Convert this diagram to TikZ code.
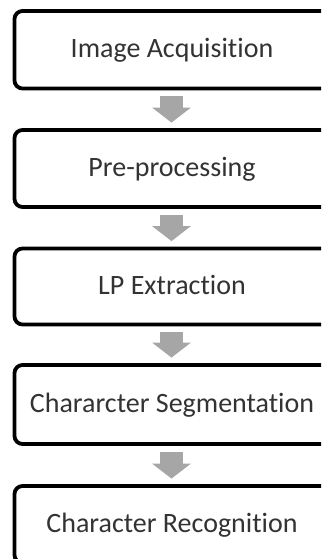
\documentclass[tikz,border=0pt]{standalone}
\usepackage{fontspec}
\setmainfont{Carlito}[Ligatures={NoCommon}]
\usetikzlibrary{arrows.meta}
\definecolor{txtgray}{HTML}{333333}
\definecolor{arrgray}{HTML}{A6A6A6}
\begin{document}
\begin{tikzpicture}[x=1pt,y=-1pt,
  stepbox/.style={draw=black, line width=3.8pt, rounded corners=8pt, fill=white,
    minimum width=315pt, minimum height=77pt, inner sep=0pt,
    text height=16pt, text depth=0pt, text=txtgray,
    font=\fontsize{28}{32}\selectfont},
  flowarrow/.style={draw=arrgray, line width=23pt,
    -{Triangle[width=38pt,length=15pt,fill=arrgray]}}]
\useasboundingbox (0,0) rectangle (321,559);
\clip (0,0) rectangle (321,559);
\fill[white] (0,0) rectangle (321,559);
\node[stepbox, minimum height=77.5pt] (b1) at (172,49.75) {Image Acquisition};
\node[stepbox] (b2) at (172,168.5) {Pre-processing};
\node[stepbox, minimum height=76pt] (b3) at (172,286.5) {LP Extraction};
\node[stepbox, minimum height=79pt] (b4) at (172,404.5) {Chararcter Segmentation};
\node[stepbox] (b5) at (172,524.5) {Character Recognition};
\draw[flowarrow] ([xshift=-0.5pt,yshift=-6pt]b1.south) -- ([xshift=-0.5pt,yshift=5.5pt]b2.north);
\draw[flowarrow] ([xshift=-0.5pt,yshift=-6pt]b2.south) -- ([xshift=-0.5pt,yshift=5.5pt]b3.north);
\draw[flowarrow] ([xshift=-0.5pt,yshift=-6pt]b3.south) -- ([xshift=-0.5pt,yshift=5.5pt]b4.north);
\draw[flowarrow] ([xshift=-0.5pt,yshift=-6pt]b4.south) -- ([xshift=-0.5pt,yshift=5.5pt]b5.north);
\end{tikzpicture}
\end{document}
